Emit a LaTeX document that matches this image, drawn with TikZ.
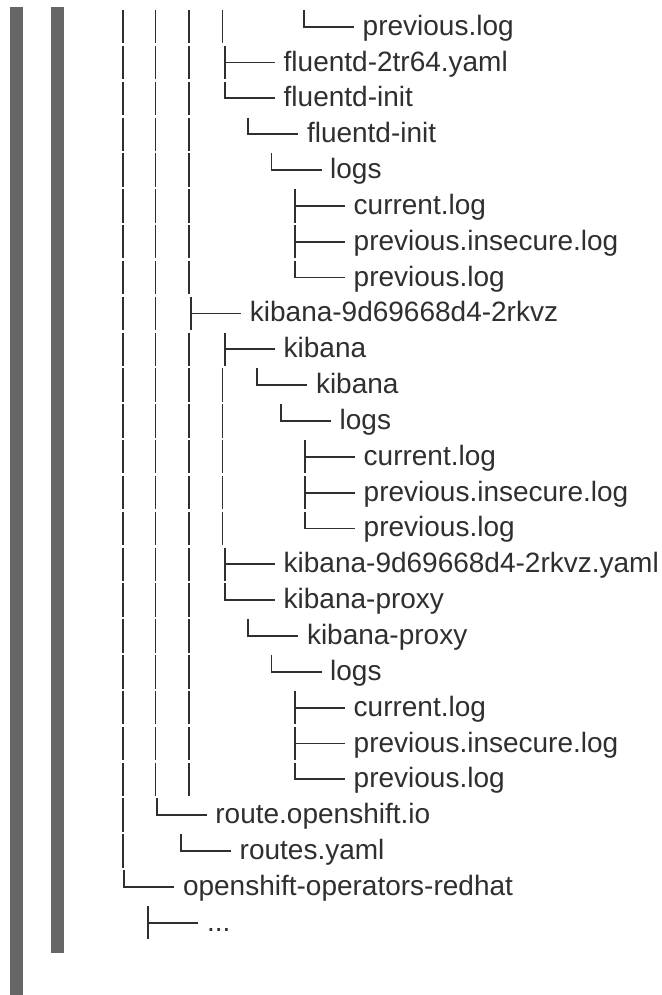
\documentclass[tikz,border=0pt]{standalone}
\usepackage{fontspec}
\setmainfont{Liberation Sans}
\definecolor{ink}{HTML}{2F2F2F}
\definecolor{barc}{HTML}{666666}
\tikzset{
  lbl/.style={anchor=base west, inner sep=0pt, text=ink, font=\fontsize{28}{30}\selectfont},
  treeline/.style={draw=ink, line width=1.8pt},
}
\begin{document}
\begin{tikzpicture}[x=1pt,y=-1pt]
\useasboundingbox (0,0) rectangle (661,995);
\fill[white] (0,0) rectangle (661,995);
% gray side bars
\fill[barc] (10,6.7) rectangle (23,995);
\fill[barc] (51,6.7) rectangle (64,952.7);
% continuation bars
\foreach \r/\bars in {
  0/{122.7,155.5,189.2,222.5},
  1/{122.7,155.5,189.2}, 2/{122.7,155.5,189.2}, 3/{122.7,155.5,189.2},
  4/{122.7,155.5,189.2}, 5/{122.7,155.5,189.2}, 6/{122.7,155.5,189.2},
  7/{122.7,155.5,189.2}, 8/{122.7,155.5}, 9/{122.7,155.5,189.2},
  10/{122.7,155.5,189.2,222.5}, 11/{122.7,155.5,189.2,222.5},
  12/{122.7,155.5,189.2,222.5}, 13/{122.7,155.5,189.2,222.5},
  14/{122.7,155.5,189.2,222.5},
  15/{122.7,155.5,189.2}, 16/{122.7,155.5,189.2}, 17/{122.7,155.5,189.2},
  18/{122.7,155.5,189.2}, 19/{122.7,155.5,189.2}, 20/{122.7,155.5,189.2},
  21/{122.7,155.5,189.2}, 22/{122.7}, 23/{122.7}}{
  \pgfmathsetmacro\yc{26.7+35.84*\r}
  \foreach \c in \bars {
    \draw[treeline] (\c,\yc-16.7) -- (\c,\yc+16.7);
  }
}
% entries: row / kind (T = tee, L = last) / branch x / text
\foreach \r/\k/\bx/\txt in {
  0/L/304/previous.log,
  1/T/225/fluentd-2tr64.yaml,
  2/L/225/fluentd-init,
  3/L/248.3/fluentd-init,
  4/L/271.5/logs,
  5/T/295/current.log,
  6/T/295/previous.insecure.log,
  7/L/295/previous.log,
  8/T/191.2/kibana-9d69668d4-2rkvz,
  9/T/225/kibana,
  10/L/257.3/kibana,
  11/L/281/logs,
  12/T/305/current.log,
  13/T/305/previous.insecure.log,
  14/L/305/previous.log,
  15/T/225/kibana-9d69668d4-2rkvz.yaml,
  16/L/225/kibana-proxy,
  17/L/248.3/kibana-proxy,
  18/L/271.5/logs,
  19/T/295/current.log,
  20/T/295/previous.insecure.log,
  21/L/295/previous.log,
  22/L/156.7/route.openshift.io,
  23/L/181/routes.yaml,
  24/L/124.3/openshift-operators-redhat}{
  \pgfmathsetmacro\yc{26.7+35.84*\r}
  \node[lbl] (t\r) at (\bx+58.5,\yc+8.5) {\txt};
  \coordinate (s\r) at (\bx,\yc-16.7);
  \coordinate (m\r) at (\bx,\yc);
  \coordinate (e\r) at (\bx+50,\yc);
  \if\k T
    \draw[treeline] (s\r) -- (\bx,\yc+16.7);
    \draw[treeline] (m\r) -- (e\r);
  \else
    \draw[treeline] (s\r) |- (e\r);
  \fi
}
% last row (ellipsis entry)
\pgfmathsetmacro\yc{26.7+35.84*25}
\node[lbl] (t25) at (148.3+58.5,\yc+8.5) {.{}.{}.};
\coordinate (s25) at (148.3,\yc-16.7);
\coordinate (m25) at (148.3,\yc);
\coordinate (e25) at (148.3+50,\yc);
\draw[treeline] (s25) -- (148.3,\yc+16.7);
\draw[treeline] (m25) -- (e25);
\end{tikzpicture}
\end{document}
